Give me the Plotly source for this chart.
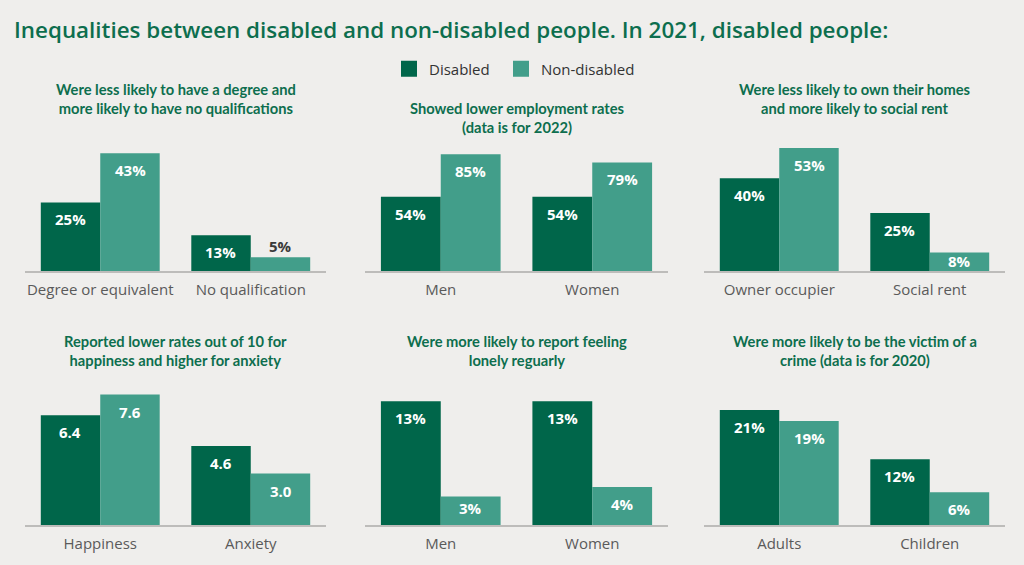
import plotly.graph_objects as go

# ---- data ----
panel_titles = [
    "Were less likely to have a degree and<br>more likely to have no qualifications",
    "Showed lower employment rates<br>(data is for 2022)",
    "Were less likely to own their homes<br>and more likely to social rent",
    "Reported lower rates out of 10 for<br>happiness and higher for anxiety",
    "Were more likely to report feeling<br>lonely reguarly",
    "Were more likely to be the victim of a<br>crime (data is for 2020)",
]
categories = [
    ["Degree or equivalent", "No qualification"],
    ["Men", "Women"],
    ["Owner occupier", "Social rent"],
    ["Happiness", "Anxiety"],
    ["Men", "Women"],
    ["Adults", "Children"],
]
disabled = [[25, 13], [54, 54], [40, 25], [6.4, 4.6], [13, 13], [21, 12]]
non_disabled = [[43, 5], [85, 79], [53, 8], [7.6, 3.0], [3, 4], [19, 6]]
value_labels_dis = [["25%", "13%"], ["54%", "54%"], ["40%", "25%"], ["6.4", "4.6"], ["13%", "13%"], ["21%", "12%"]]
value_labels_non = [["43%", "5%"], ["85%", "79%"], ["53%", "8%"], ["7.6", "3.0"], ["3%", "4%"], ["19%", "6%"]]
y_max = [47.8, 95.3, 56.5, 8.1, 14.6, 25.4]
series_names = ["Disabled", "Non-disabled"]

# ---- style ----
DARK = "#00664a"
LIGHT = "#429e8a"
TITLE_C = "#0d6e4e"
BG = "#efeeec"
W, H = 1024, 565

x_dom = [(25, 326), (365, 668), (704, 1005)]
row_px = [(140, 271), (386, 525)]  # (top, baseline) in pixels

fig = go.Figure()
annotations = []

def py(p):
    return 1 - p / H

for i in range(6):
    r, c = divmod(i, 3)
    ax = "" if i == 0 else str(i + 1)
    xa, ya = "x" + ax, "y" + ax
    fig.add_trace(go.Bar(x=categories[i], y=disabled[i], name=series_names[0],
                         marker=dict(color=DARK, line=dict(width=0)),
                         xaxis=xa, yaxis=ya, showlegend=False, hoverinfo="skip"))
    fig.add_trace(go.Bar(x=categories[i], y=non_disabled[i], name=series_names[1],
                         marker=dict(color=LIGHT, line=dict(width=0)),
                         xaxis=xa, yaxis=ya, showlegend=False, hoverinfo="skip"))
    x0, x1 = x_dom[c]
    top, base = row_px[r]
    fig.update_layout(**{
        ("xaxis" if i == 0 else "xaxis" + ax): dict(
            domain=[x0 / W, x1 / W], anchor=ya, showline=True, linecolor="#bdbcba",
            linewidth=1.5, showgrid=False, zeroline=False, ticks="",
            ticklabelstandoff=4,
            tickfont=dict(family="Open Sans", size=15, color="#5a5a5a"),
            fixedrange=True),
        ("yaxis" if i == 0 else "yaxis" + ax): dict(
            domain=[py(base), py(top)], anchor=xa, range=[0, y_max[i]],
            visible=False, showgrid=False, zeroline=False, fixedrange=True),
    })
    # value labels
    for j, cat in enumerate(categories[i]):
        for val, lab, sgn in ((disabled[i][j], value_labels_dis[i][j], -1),
                              (non_disabled[i][j], value_labels_non[i][j], 1)):
            shift = -17
            color = "white"
            if lab == "5%":
                shift, color = 11, "#3a3a3a"
            elif lab == "8%" and i == 2:
                shift = -9
            elif lab == "3%" and i == 4:
                shift = -12
            annotations.append(dict(
                x=cat, y=val, xref=xa, yref=ya, xshift=sgn * 29.8, yshift=shift,
                text=lab, showarrow=False, yanchor="middle", xanchor="center",
                font=dict(family="Open Sans", size=15, color=color, weight="bold")))
    # panel title
    cx = (x0 + x1) / 2
    ty = [98, 117, 98, 350, 350, 350][i]
    annotations.append(dict(
        x=cx / W, y=py(ty), xref="paper", yref="paper", text=panel_titles[i],
        showarrow=False, xanchor="center", yanchor="middle", align="center",
        font=dict(family="Lato", size=14.7, color=TITLE_C, weight="bold")))

# legend entries (swatches), one legend box each
for name, col, lg in zip(series_names, [DARK, LIGHT], ["legend", "legend2"]):
    fig.add_trace(go.Scatter(x=[None], y=[None], mode="markers", name=name,
                             marker=dict(symbol="square", size=18, color=col),
                             showlegend=True, hoverinfo="skip", legend=lg))

annotations.append(dict(
    x=12 / W, y=py(30), xref="paper", yref="paper",
    text="Inequalities between disabled and non-disabled people. In 2021, disabled people:",
    showarrow=False, xanchor="left", yanchor="middle",
    font=dict(family="Open Sans", size=22.4, color=TITLE_C, weight=600)))

leg_common = dict(orientation="h", y=py(69), xanchor="left", yanchor="middle",
                  font=dict(family="Open Sans", size=15, color="#333333"),
                  bgcolor="rgba(0,0,0,0)", itemwidth=30)

fig.update_layout(
    width=W, height=H, margin=dict(l=0, r=0, t=0, b=0),
    paper_bgcolor=BG, plot_bgcolor=BG,
    barmode="group", bargap=0.21, bargroupgap=0,
    annotations=annotations,
    legend=dict(x=389 / W, **leg_common),
    legend2=dict(x=501 / W, **leg_common),
)

fig.write_html("out.html", config={"displayModeBar": False},
               post_script="document.body.style.margin='0px';document.body.style.overflow='hidden';")
